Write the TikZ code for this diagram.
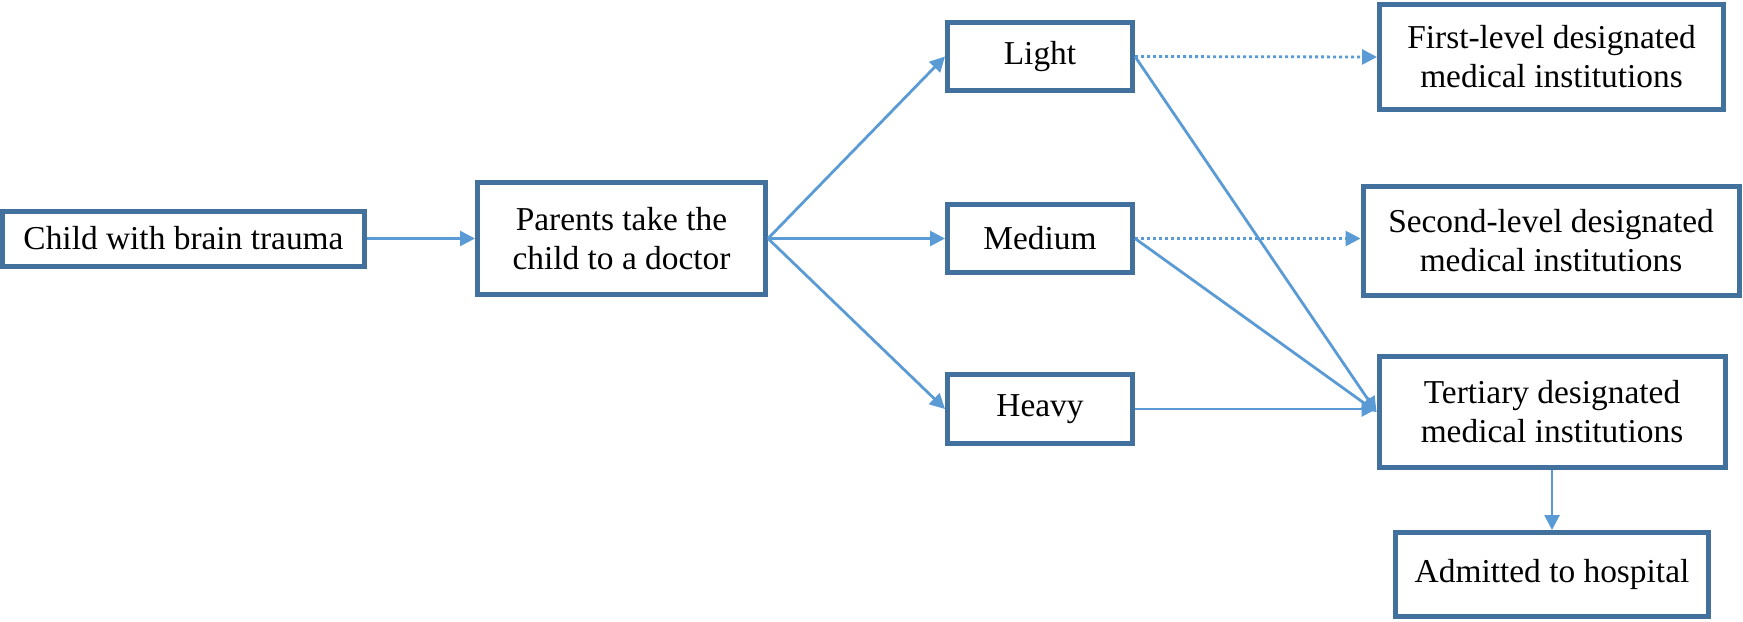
\documentclass[tikz,border=0pt]{standalone}
\usepackage{fontspec}
\setmainfont{Liberation Serif}
\usetikzlibrary{arrows.meta}
\definecolor{boxblue}{HTML}{41719C}
\definecolor{lineblue}{HTML}{5B9BD5}
\begin{document}
\begin{tikzpicture}[x=0.5pt,y=-0.5pt,
  box/.style={draw=boxblue, line width=2.5pt, fill=white, align=center, inner sep=0pt,
    font=\fontsize{16.7pt}{19.5pt}\selectfont},
  conn/.style={draw=lineblue, line width=1.4pt, -{Triangle[length=7.5pt,width=7.5pt]}},
  dotconn/.style={conn, dash pattern=on 1.5pt off 1.5pt}]
\useasboundingbox (0,0) rectangle (1743,621);
\node[box, minimum width=181pt, minimum height=27.5pt] (child) at (183.5,238.5) {Child with brain trauma};
\node[box, minimum width=144pt, minimum height=56pt] (parents) at (621.5,238.5) {Parents take the\\child to a doctor};
\node[box, minimum width=92.5pt, minimum height=34pt] (light) at (1040,56.5) {Light};
\node[box, minimum width=92.5pt, minimum height=34pt] (medium) at (1040,238.5) {Medium};
\node[box, minimum width=92.5pt, minimum height=34.5pt] (heavy) at (1040,409) {Heavy};
\node[box, minimum width=172pt, minimum height=52.5pt] (first) at (1551.5,57) {First-level designated\\medical institutions};
\node[box, minimum width=188pt, minimum height=54.5pt] (second) at (1551,241) {Second-level designated\\medical institutions};
\node[box, minimum width=173pt, minimum height=55.5pt] (tertiary) at (1552,412) {Tertiary designated\\medical institutions};
\node[box, minimum width=156.5pt, minimum height=42pt] (admitted) at (1552,574.5) {Admitted to hospital};
\draw[conn] (child.east) -- (parents.west);
\draw[conn] (parents.east) -- (light.west);
\draw[conn] (parents.east) -- (medium.west);
\draw[conn] (parents.east) -- (heavy.west);
\draw[dotconn] (light.east) -- (first.west);
\draw[dotconn] (medium.east) -- (second.west |- medium.east);
\draw[conn] (light.east) -- (tertiary.west);
\draw[conn] (medium.east) -- (tertiary.west);
\draw[conn] (heavy.east) -- (tertiary.west |- heavy.east);
\draw[conn] (tertiary.south) -- (admitted.north);
\end{tikzpicture}
\end{document}
